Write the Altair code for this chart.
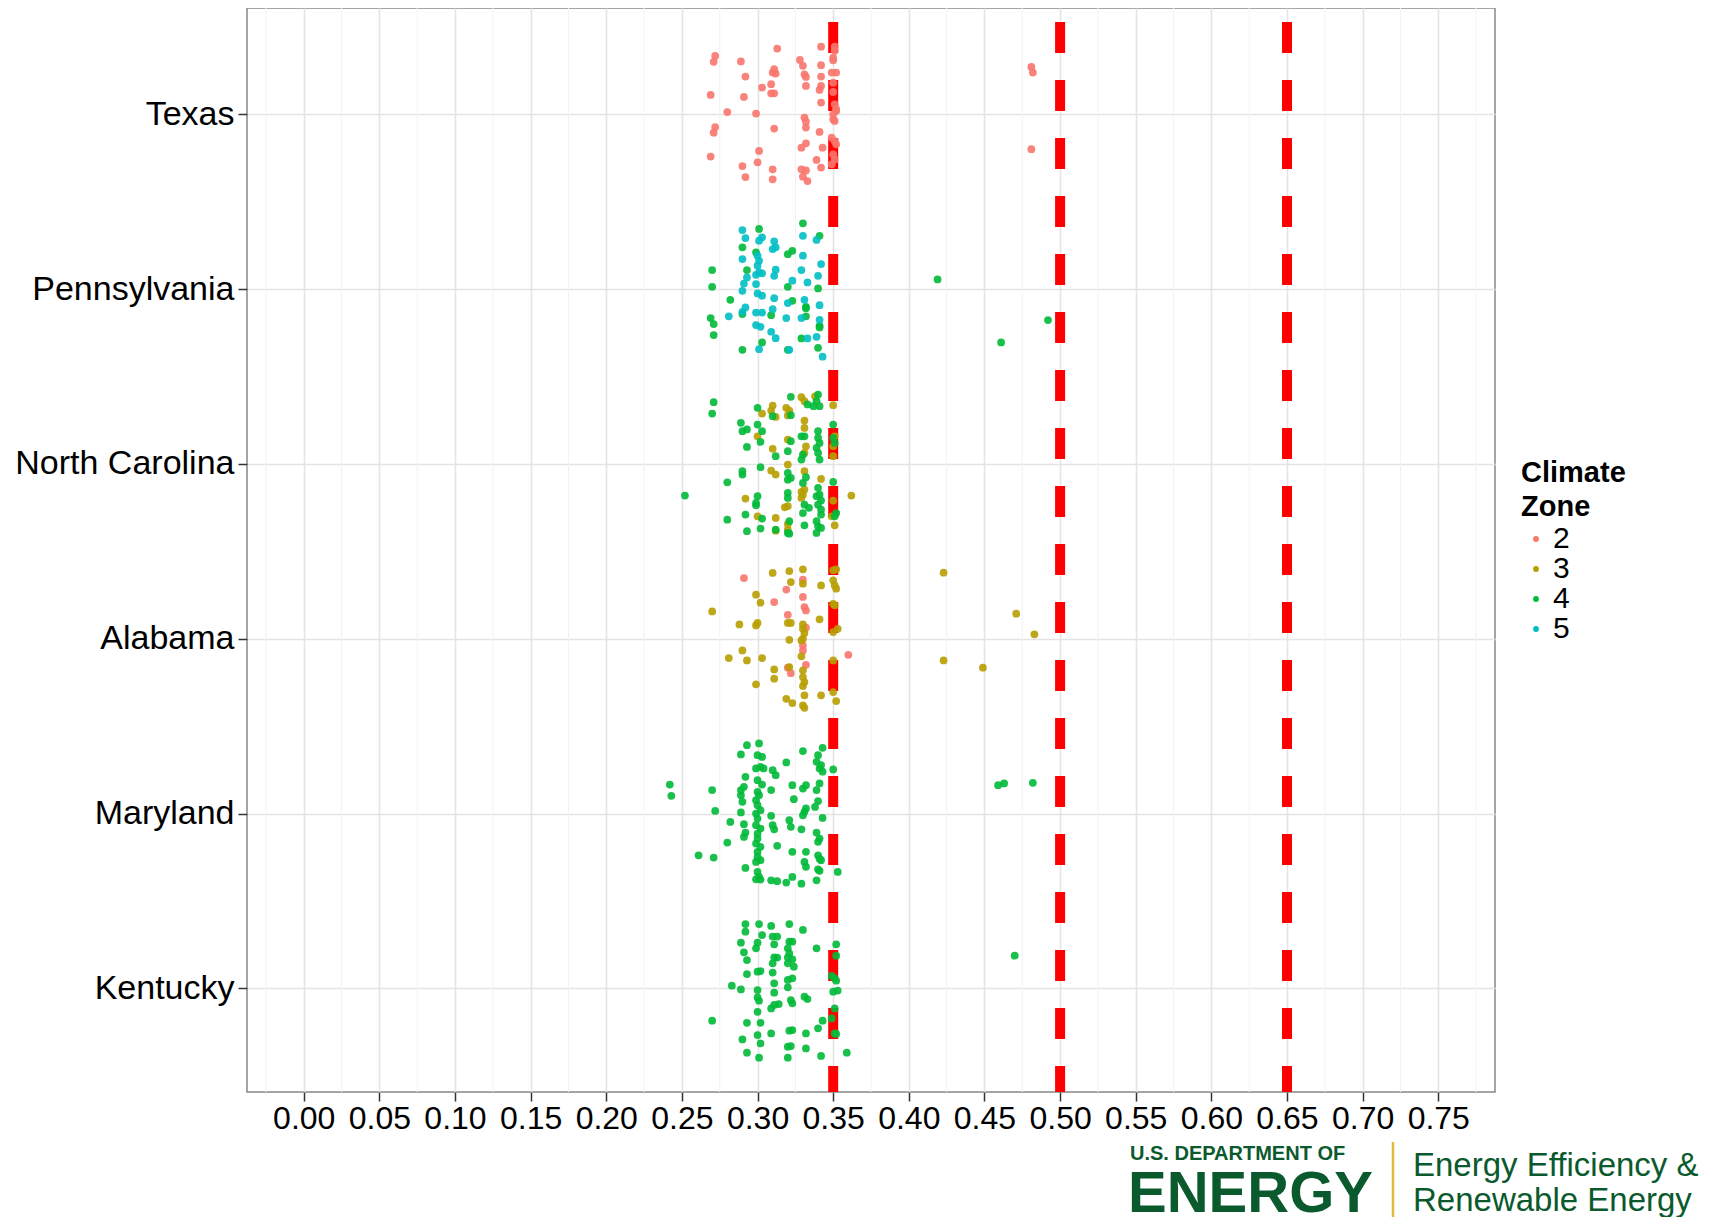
import altair as alt
import pandas as pd

STATES = ["Texas", "Pennsylvania", "North Carolina", "Alabama", "Maryland", "Kentucky"]
ZONES = ["2", "3", "4", "5"]
ZONE_COLORS = ["#F8766D", "#B79F00", "#00BA38", "#00BFC4"]
X_TICKS = [0.00, 0.05, 0.10, 0.15, 0.20, 0.25, 0.30, 0.35, 0.40, 0.45, 0.50, 0.55, 0.60, 0.65, 0.70, 0.75]
X_MINOR = [-0.025, 0.025, 0.075, 0.125, 0.175, 0.225, 0.275, 0.325, 0.375, 0.425, 0.475, 0.525, 0.575, 0.625, 0.675, 0.725, 0.775]
THRESHOLDS = [0.35, 0.50, 0.65]

# (value, vertical jitter) per state and climate zone
TX_Z2 = [(0.313, 0.376), (0.342, 0.387), (0.351, 0.387), (0.351, 0.363), (0.272, 0.334), (0.271, 0.300),
         (0.289, 0.302), (0.328, 0.311), (0.330, 0.277), (0.342, 0.281), (0.350, 0.324), (0.350, 0.309),
         (0.311, 0.258), (0.310, 0.239), (0.312, 0.233), (0.292, 0.216), (0.331, 0.229), (0.332, 0.214),
         (0.342, 0.216), (0.349, 0.239), (0.352, 0.239), (0.309, 0.172), (0.303, 0.153), (0.332, 0.162),
         (0.342, 0.162), (0.341, 0.139), (0.350, 0.181), (0.350, 0.128), (0.269, 0.111), (0.291, 0.099),
         (0.309, 0.120), (0.311, 0.120), (0.342, 0.067), (0.351, 0.057), (0.352, 0.029), (0.280, 0.013),
         (0.299, 0.004), (0.350, 0.000), (0.352, 0.019), (0.331, -0.019), (0.332, -0.042), (0.332, -0.076),
         (0.351, -0.038), (0.350, -0.029), (0.272, -0.073), (0.271, -0.105), (0.311, -0.082), (0.341, -0.101),
         (0.349, -0.134), (0.352, -0.172), (0.351, -0.153), (0.332, -0.166), (0.329, -0.191), (0.343, -0.191),
         (0.301, -0.210), (0.269, -0.242), (0.350, -0.229), (0.351, -0.258), (0.339, -0.261), (0.300, -0.275),
         (0.290, -0.296), (0.342, -0.305), (0.349, -0.286), (0.310, -0.315), (0.329, -0.315), (0.332, -0.321),
         (0.330, -0.357), (0.333, -0.382), (0.292, -0.359), (0.310, -0.372), (0.481, 0.271), (0.482, 0.239),
         (0.481, -0.200)]

PA_Z4 = [(0.330, 0.376), (0.341, 0.305), (0.290, 0.239), (0.301, 0.344), (0.270, 0.109), (0.270, 0.013),
         (0.293, 0.109), (0.320, 0.200), (0.323, 0.219), (0.320, 0.013), (0.340, 0.004), (0.282, -0.061),
         (0.323, -0.067), (0.332, -0.101), (0.332, -0.109), (0.269, -0.166), (0.271, -0.200), (0.271, -0.263),
         (0.290, -0.143), (0.309, -0.149), (0.332, -0.156), (0.341, -0.210), (0.341, -0.219), (0.329, -0.282),
         (0.290, -0.347), (0.320, -0.347), (0.340, -0.336), (0.303, -0.305), (0.419, 0.055), (0.461, -0.305),
         (0.492, -0.177), (0.299, 0.210)]

PA_Z5 = [(0.290, 0.338), (0.292, 0.292), (0.303, 0.296), (0.301, 0.277), (0.311, 0.273), (0.312, 0.239),
         (0.310, 0.229), (0.330, 0.305), (0.290, 0.172), (0.300, 0.191), (0.301, 0.162), (0.300, 0.134),
         (0.301, 0.095), (0.303, 0.090), (0.299, 0.082), (0.312, 0.111), (0.311, 0.076), (0.329, 0.109),
         (0.342, 0.143), (0.340, 0.076), (0.293, 0.067), (0.291, 0.032), (0.290, -0.010), (0.299, 0.029),
         (0.323, 0.048), (0.333, 0.038), (0.300, -0.025), (0.303, -0.038), (0.311, -0.052), (0.320, -0.080),
         (0.331, -0.061), (0.341, -0.092), (0.292, -0.105), (0.290, -0.130), (0.281, -0.156), (0.299, -0.134),
         (0.303, -0.134), (0.310, -0.115), (0.319, -0.166), (0.329, -0.166), (0.341, -0.176), (0.299, -0.206),
         (0.302, -0.216), (0.309, -0.244), (0.312, -0.281), (0.339, -0.273), (0.333, -0.282), (0.301, -0.344),
         (0.321, -0.347), (0.343, -0.387), (0.330, 0.191), (0.339, 0.281)]

NC_Z3 = [(0.310, 0.334), (0.309, 0.305), (0.303, 0.288), (0.312, 0.269), (0.319, 0.321), (0.321, 0.305),
         (0.320, 0.277), (0.329, 0.382), (0.331, 0.359), (0.338, 0.387), (0.350, 0.336), (0.331, 0.248),
         (0.331, 0.206), (0.300, 0.158), (0.351, 0.158), (0.350, 0.101), (0.310, 0.086), (0.320, 0.139),
         (0.332, 0.101), (0.331, 0.063), (0.350, 0.044), (0.320, -0.004), (0.309, -0.038), (0.312, -0.061),
         (0.331, -0.042), (0.342, -0.086), (0.331, -0.147), (0.330, -0.176), (0.329, -0.160), (0.350, -0.210),
         (0.362, -0.181), (0.292, -0.198), (0.320, -0.242), (0.318, -0.248), (0.329, -0.195), (0.300, -0.300),
         (0.312, -0.309), (0.320, -0.344), (0.320, -0.376), (0.351, -0.351), (0.349, -0.300), (0.312, -0.382)]

NC_Z4 = [(0.271, 0.353), (0.270, 0.288), (0.300, 0.321), (0.322, 0.384), (0.340, 0.397), (0.333, 0.340),
         (0.337, 0.330), (0.341, 0.330), (0.339, 0.359), (0.322, 0.279), (0.310, 0.273), (0.289, 0.235),
         (0.300, 0.225), (0.290, 0.187), (0.293, 0.197), (0.303, 0.187), (0.350, 0.225), (0.293, 0.097),
         (0.302, 0.126), (0.312, 0.044), (0.320, 0.073), (0.322, 0.130), (0.329, 0.158), (0.331, 0.158),
         (0.340, 0.187), (0.340, 0.149), (0.341, 0.120), (0.339, 0.092), (0.340, 0.063), (0.350, 0.149),
         (0.351, 0.120), (0.330, 0.053), (0.329, 0.025), (0.341, 0.025), (0.290, -0.042), (0.290, -0.061),
         (0.302, -0.019), (0.320, -0.052), (0.322, -0.080), (0.320, -0.090), (0.332, -0.076), (0.330, -0.109),
         (0.340, -0.137), (0.341, -0.176), (0.342, -0.210), (0.339, -0.185), (0.350, -0.103), (0.280, -0.105),
         (0.252, -0.181), (0.300, -0.185), (0.299, -0.223), (0.299, -0.237), (0.320, -0.166), (0.320, -0.195),
         (0.331, -0.233), (0.334, -0.252), (0.330, -0.281), (0.340, -0.233), (0.342, -0.261), (0.342, -0.290),
         (0.352, -0.281), (0.351, -0.300), (0.280, -0.319), (0.292, -0.290), (0.303, -0.313), (0.321, -0.328),
         (0.331, -0.351), (0.339, -0.328), (0.340, -0.357), (0.339, -0.395), (0.342, -0.366), (0.293, -0.385),
         (0.302, -0.370), (0.312, -0.376), (0.320, -0.395), (0.321, -0.399)]

AL_Z2 = [(0.291, 0.347), (0.319, 0.281), (0.330, 0.338), (0.311, 0.210), (0.330, 0.239), (0.331, 0.181),
         (0.332, 0.162), (0.320, 0.137), (0.332, 0.063), (0.330, -0.038), (0.330, -0.067), (0.360, -0.092),
         (0.332, -0.149), (0.320, -0.166), (0.322, -0.197)]

AL_Z3 = [(0.310, 0.376), (0.321, 0.387), (0.330, 0.397), (0.350, 0.391), (0.352, 0.397), (0.322, 0.324),
         (0.330, 0.315), (0.342, 0.305), (0.350, 0.334), (0.351, 0.305), (0.352, 0.286), (0.299, 0.252),
         (0.302, 0.206), (0.270, 0.156), (0.350, 0.200), (0.351, 0.191), (0.288, 0.082), (0.299, 0.076),
         (0.300, 0.090), (0.320, 0.090), (0.322, 0.090), (0.330, 0.082), (0.330, 0.057), (0.331, 0.032),
         (0.330, 0.000), (0.329, -0.010), (0.341, 0.111), (0.350, 0.038), (0.353, 0.057), (0.423, 0.378),
         (0.471, 0.143), (0.321, -0.006), (0.290, -0.067), (0.281, -0.111), (0.293, -0.124), (0.303, -0.111),
         (0.329, -0.101), (0.350, -0.124), (0.423, -0.124), (0.449, -0.166), (0.311, -0.176), (0.311, -0.229),
         (0.321, -0.162), (0.330, -0.181), (0.330, -0.219), (0.331, -0.248), (0.330, -0.271), (0.299, -0.261),
         (0.319, -0.344), (0.323, -0.368), (0.331, -0.324), (0.330, -0.382), (0.331, -0.395), (0.342, -0.324),
         (0.350, -0.305), (0.352, -0.357), (0.483, 0.025)]

MD_Z4 = [(0.242, 0.166), (0.243, 0.101), (0.270, 0.134), (0.272, 0.015), (0.282, -0.048), (0.280, -0.166),
         (0.261, -0.239), (0.271, -0.252), (0.293, 0.391), (0.289, 0.338), (0.301, 0.401), (0.300, 0.334),
         (0.303, 0.324), (0.292, 0.210), (0.291, 0.153), (0.289, 0.134), (0.289, 0.105), (0.290, 0.067),
         (0.289, 0.006), (0.291, -0.061), (0.292, -0.109), (0.291, -0.134), (0.292, -0.311), (0.299, 0.258),
         (0.302, 0.267), (0.304, 0.258), (0.300, 0.191), (0.303, 0.166), (0.300, 0.124), (0.301, 0.105),
         (0.299, 0.076), (0.300, 0.048), (0.302, 0.019), (0.299, 0.000), (0.300, -0.029), (0.299, -0.067),
         (0.302, -0.086), (0.300, -0.115), (0.300, -0.143), (0.299, -0.172), (0.302, -0.191), (0.300, -0.219),
         (0.300, -0.248), (0.299, -0.277), (0.302, -0.267), (0.300, -0.334), (0.301, -0.363), (0.299, -0.376),
         (0.302, -0.378), (0.310, 0.248), (0.312, 0.219), (0.309, 0.134), (0.319, 0.292), (0.309, -0.013),
         (0.310, -0.067), (0.311, -0.090), (0.313, -0.185), (0.309, -0.382), (0.313, -0.387), (0.319, -0.395),
         (0.323, -0.363), (0.323, 0.162), (0.324, 0.082), (0.330, 0.357), (0.330, 0.143), (0.332, 0.162),
         (0.321, -0.038), (0.322, -0.076), (0.329, -0.090), (0.323, -0.219), (0.331, 0.010), (0.332, 0.029),
         (0.330, -0.010), (0.332, -0.219), (0.331, -0.277), (0.332, -0.305), (0.329, -0.401), (0.343, 0.376),
         (0.340, 0.334), (0.339, 0.296), (0.341, 0.258), (0.342, 0.277), (0.343, 0.239), (0.350, 0.252),
         (0.341, 0.172), (0.339, 0.134), (0.340, 0.071), (0.338, 0.038), (0.343, -0.025), (0.339, -0.109),
         (0.341, -0.143), (0.340, -0.162), (0.340, -0.239), (0.342, -0.267), (0.341, -0.258), (0.340, -0.319),
         (0.341, -0.328), (0.339, -0.382), (0.353, -0.334), (0.459, 0.162), (0.463, 0.172), (0.482, 0.176)]

KY_Z4 = [(0.292, 0.368), (0.292, 0.324), (0.301, 0.368), (0.309, 0.357), (0.321, 0.368), (0.330, 0.334),
         (0.303, 0.305), (0.310, 0.296), (0.313, 0.296), (0.311, 0.252), (0.289, 0.261), (0.300, 0.261),
         (0.299, 0.229), (0.321, 0.267), (0.323, 0.267), (0.320, 0.229), (0.339, 0.229), (0.352, 0.252),
         (0.291, 0.206), (0.293, 0.162), (0.311, 0.177), (0.313, 0.176), (0.310, 0.143), (0.321, 0.200),
         (0.320, 0.177), (0.323, 0.166), (0.320, 0.143), (0.324, 0.124), (0.352, 0.187), (0.470, 0.187),
         (0.293, 0.082), (0.300, 0.095), (0.302, 0.099), (0.310, 0.090), (0.323, 0.057), (0.320, 0.048),
         (0.311, 0.029), (0.349, 0.071), (0.351, 0.057), (0.352, 0.044), (0.283, 0.015), (0.289, -0.006),
         (0.300, -0.010), (0.300, -0.052), (0.301, -0.071), (0.311, -0.025), (0.320, 0.006), (0.350, -0.019),
         (0.353, -0.013), (0.309, -0.115), (0.311, -0.095), (0.314, -0.090), (0.322, -0.067), (0.323, -0.086),
         (0.331, -0.048), (0.333, -0.061), (0.300, -0.134), (0.351, -0.115), (0.270, -0.185), (0.293, -0.197),
         (0.302, -0.197), (0.343, -0.185), (0.340, -0.229), (0.349, -0.172), (0.300, -0.267), (0.302, -0.315),
         (0.290, -0.292), (0.293, -0.368), (0.301, -0.397), (0.309, -0.258), (0.321, -0.242), (0.323, -0.239),
         (0.332, -0.258), (0.320, -0.334), (0.322, -0.330), (0.332, -0.344), (0.351, -0.258), (0.352, -0.261),
         (0.342, -0.387), (0.320, -0.397), (0.359, -0.368)]

GROUPS = [
    ("Texas", "2", TX_Z2),
    ("Pennsylvania", "4", PA_Z4), ("Pennsylvania", "5", PA_Z5),
    ("North Carolina", "3", NC_Z3), ("North Carolina", "4", NC_Z4),
    ("Alabama", "2", AL_Z2), ("Alabama", "3", AL_Z3),
    ("Maryland", "4", MD_Z4),
    ("Kentucky", "4", KY_Z4),
]

rows = []
for state, zone, pts in GROUPS:
    pos = len(STATES) - STATES.index(state)
    for v, j in pts:
        rows.append({"state": state, "zone": zone, "value": v, "ypos": pos + j})
points_df = pd.DataFrame(rows)

W, H = 1248, 1084
FONT = "Liberation Sans"
GREEN = "#0B5A2E"

xscale = alt.Scale(domain=[-0.0375, 0.7875], nice=False, zero=False)
yscale = alt.Scale(domain=[0.407, 6.608], nice=False, zero=False)

label_list = [""] + list(reversed(STATES))
label_expr = "[" + ",".join("'" + s + "'" for s in label_list) + "][datum.value]"

x_axis = alt.Axis(values=X_TICKS, format=".2f", title=None, labelFontSize=32, labelFont=FONT,
                  labelColor="#000000", tickSize=9, tickColor="#333333", tickWidth=1.5,
                  labelPadding=2, grid=True, gridColor="#E4E4E4", gridWidth=1.6, domain=False,
                  labelOverlap=False, labelFlush=False)
y_axis = alt.Axis(values=list(range(1, len(STATES) + 1)), labelExpr=label_expr, title=None,
                  labelFontSize=34, labelFont=FONT, labelColor="#000000", tickSize=9,
                  tickColor="#333333", tickWidth=1.5, labelPadding=4, grid=True, labelLimit=500,
                  gridColor="#E4E4E4", gridWidth=1.6, domain=False, labelFlush=False)

minor = alt.Chart(pd.DataFrame({"value": X_MINOR})).mark_rule(
    color="#F2F2F2", strokeWidth=1
).encode(x=alt.X("value:Q", scale=xscale))

thresh = alt.Chart(pd.DataFrame({"value": THRESHOLDS})).mark_rule(
    color="#FF0000", strokeWidth=10, strokeDash=[31, 27], strokeDashOffset=44, strokeCap="butt"
).encode(x=alt.X("value:Q", scale=xscale), y=alt.value(0), y2=alt.value(H))

pts = alt.Chart(points_df).mark_circle(size=60, opacity=0.9).encode(
    x=alt.X("value:Q", scale=xscale, axis=x_axis),
    y=alt.Y("ypos:Q", scale=yscale, axis=y_axis),
    color=alt.Color("zone:N", scale=alt.Scale(domain=ZONES, range=ZONE_COLORS),
                    legend=alt.Legend(title=["Climate", "Zone"], orient="none", legendX=1274,
                                      legendY=451, titleFontSize=29, titleFont=FONT,
                                      titleFontWeight="bold", titleColor="#000000",
                                      titleLineHeight=34, titlePadding=2, labelFontSize=30,
                                      labelFont=FONT, labelColor="#000000", symbolSize=34,
                                      symbolType="circle", symbolOffset=0, labelOffset=2,
                                      rowPadding=0, padding=0, symbolStrokeWidth=0,
                                      symbolOpacity=1)),
)

def logo_text(txt, x, y, size, weight="normal"):
    return alt.Chart(pd.DataFrame({"t": [txt]})).mark_text(
        align="left", baseline="alphabetic", font=FONT, fontSize=size, fontWeight=weight,
        color=GREEN
    ).encode(text="t:N", x=alt.value(x), y=alt.value(y))

logo = [
    logo_text("U.S. DEPARTMENT OF", 883, 1152, 20, "bold"),
    logo_text("ENERGY", 881, 1204, 58, "bold"),
    logo_text("Energy Efficiency &", 1166, 1168, 33),
    logo_text("Renewable Energy", 1166, 1203, 33),
]
gold = alt.Chart(pd.DataFrame({"t": [0]})).mark_rule(color="#E2B93B", strokeWidth=2.5).encode(
    x=alt.value(1146), y=alt.value(1134), y2=alt.value(1214)
)

chart = alt.layer(minor, thresh, pts, *logo, gold).properties(
    width=W, height=H,
    autosize=alt.AutoSizeParams(type="none"),
    padding={"left": 239, "top": 0, "right": 220, "bottom": 125},
).configure_view(stroke="#888888", strokeWidth=1.5)

chart.save("out.html", embed_options={"renderer": "svg", "actions": False})
